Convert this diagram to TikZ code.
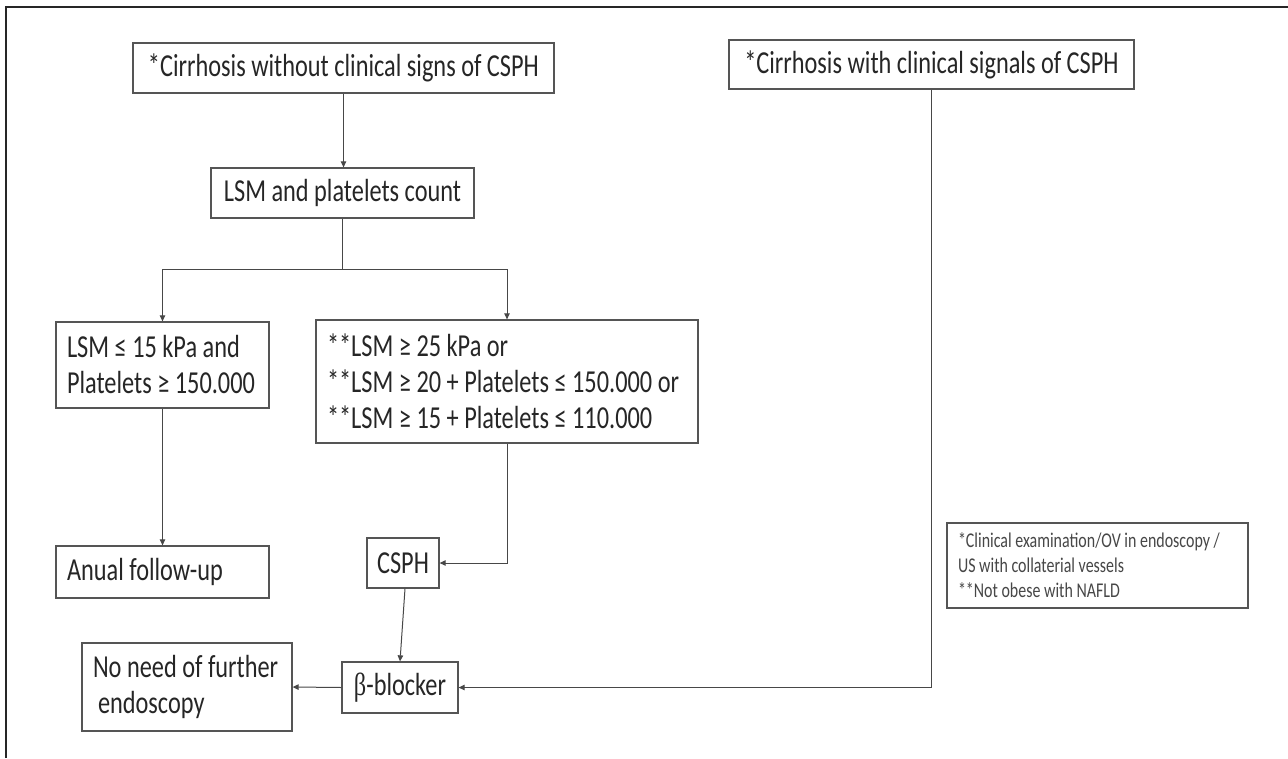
\documentclass[tikz,border=0pt]{standalone}
\usepackage{fontspec}
\setmainfont{Carlito}[FakeStretch=0.76]
\newfontfamily\betafont{Liberation Serif}[FakeStretch=0.76]
\usetikzlibrary{arrows.meta}
\definecolor{ink}{HTML}{262626}
\definecolor{boxline}{HTML}{555555}
\tikzset{
  box/.style={draw=boxline, line width=1.3pt, inner sep=0pt, text=ink,
    font=\fontsize{32}{36}\selectfont},
  leftbox/.style={box, inner xsep=11pt, align=flush left,
    execute at begin node={\spaceskip=0pt\xspaceskip=0pt\hyphenpenalty=10000\relax}},
  conn/.style={draw=ink!85, line width=1pt},
  arr/.style={conn, -{Triangle[length=6pt,width=5.5pt]}},
  frameline/.style={draw=black!85, line width=2pt}
}
\begin{document}
\begin{tikzpicture}[x=1pt,y=-1pt]
\useasboundingbox (0,0) rectangle (1288,758);
\fill[white] (0,0) rectangle (1288,758);
% outer frame (left and top edges)
\coordinate (f1) at (6,758);
\coordinate (f2) at (6,7);
\coordinate (f3) at (1288,7);
\draw[frameline] (f1) -- (f2) -- (f3);

\node[box, minimum width=421pt, minimum height=50pt] (A) at (343.5,68) {*Cirrhosis without clinical signs of CSPH};
\node[box, minimum width=405pt, minimum height=49pt] (B) at (931.5,64.5) {*Cirrhosis with clinical signals of CSPH};
\node[box, minimum width=263pt, minimum height=50pt] (LSM) at (342.5,193) {LSM and platelets count};
\node[leftbox, text width=191pt, minimum height=86pt] (L1) at (162.5,365)
  {LSM ≤ 15 kPa and\\{}Platelets ≥ 150.000};
\node[leftbox, text width=360pt, minimum height=123pt] (R1) at (507,381.5)
  {**LSM ≥ 25 kPa or\\{}**LSM ≥ 20 + Platelets ≤ 150.000 or\\{}**LSM ≥ 15 + Platelets ≤ 110.000};
\node[leftbox, text width=191pt, minimum height=52pt] (AF) at (162.5,572) {Anual follow-up};
\node[box, minimum width=72pt, minimum height=50pt] (CSPH) at (403,563) {CSPH};
\node[box, minimum width=116pt, minimum height=51pt] (BB) at (400,687.5) {{\betafont β}-blocker};
\node[leftbox, text width=188pt, minimum height=88pt] (NN) at (187,687)
  {No need of further\\{}\hspace*{5pt}endoscopy};
\node[leftbox, text width=279pt, minimum height=85pt,
      font=\fontsize{21}{25}\selectfont, text=ink!85] (FN) at (1097.5,565.5)
  {*Clinical examination/OV in endoscopy /\\{}US with collaterial vessels\\{}**Not obese with NAFLD};

\coordinate (split) at (342.5,269);
\draw[arr] (A.south) -- (A.south |- LSM.north);
\draw[conn] (LSM.south) -- (split);
\draw[arr] (split) -| (L1.north);
\draw[arr] (split) -| (R1.north);
\draw[arr] (L1.south) -- (AF.north);
\draw[arr] (R1.south) |- (CSPH.east);
\draw[arr] ([xshift=2pt]CSPH.south) -- (BB.north);
\draw[arr] (BB.west) -- (NN.east);
\draw[arr] (B.south) |- (BB.east);
\end{tikzpicture}
\end{document}
